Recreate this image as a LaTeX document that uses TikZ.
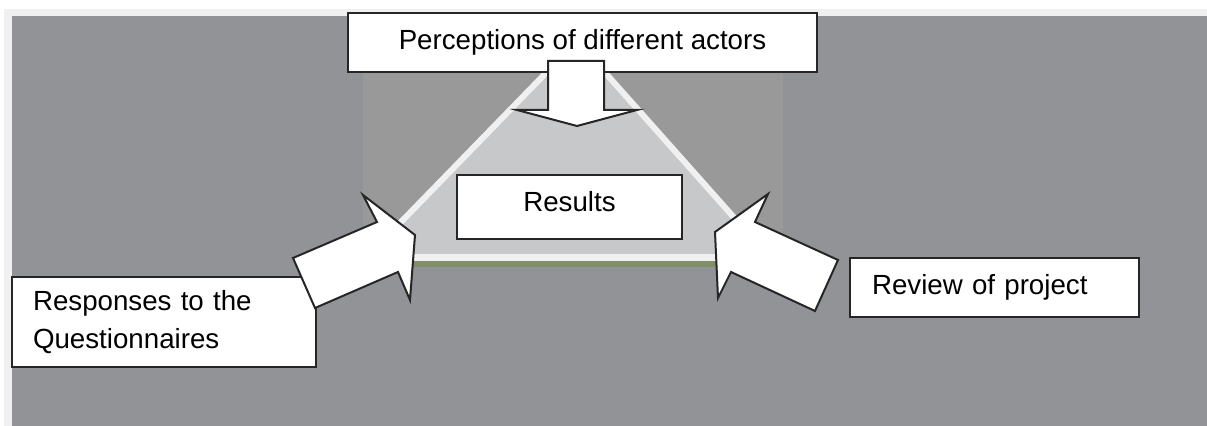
\documentclass[tikz,border=0pt]{standalone}
\usepackage{fontspec}
\setmainfont{Liberation Sans}
\definecolor{palerim}{RGB}{240,240,240}
\definecolor{darkbg}{RGB}{146,147,151}
\definecolor{midbg}{RGB}{153,153,153}
\definecolor{trifill}{RGB}{199,200,202}
\definecolor{basegreen}{RGB}{128,143,106}
\tikzset{
  labelbox/.style={draw=black!85,line width=1pt,fill=white,inner sep=0pt,
    font=\fontsize{13.85pt}{19pt}\selectfont},
  blockarrow/.style={draw=black!85,line width=1pt,fill=white,line join=miter},
}
\begin{document}
\begin{tikzpicture}[x=0.5pt,y=-0.5pt]
  \useasboundingbox (0,0) rectangle (1207,426);
  \fill[palerim] (4,9) rectangle (1207,426);
  \fill[darkbg] (12,16) rectangle (1207,426);
  \fill[midbg] (363,16) rectangle (783,262);

  \coordinate (apex) at (577,41);
  \coordinate (baseL) at (366,258);
  \coordinate (baseR) at (770,258);
  \fill[trifill] (baseL) -- (apex) -- (baseR) -- cycle;
  \draw[palerim,line width=3pt] (baseL) -- (apex) -- (baseR);
  \draw[palerim,line width=3.5pt] (baseL) -- (baseR);
  \draw[basegreen,line width=3pt] (366,264) -- (770,264);

  \node[labelbox,minimum width=234.5pt,minimum height=29.5pt] (actors)
    at (582.5,42.5) {Perceptions of different actors};
  \node[labelbox,minimum width=112.5pt,minimum height=32pt,text depth=6pt] (results)
    at (569.5,207) {Results};
  \node[labelbox,text width=131pt,inner xsep=10.5pt,minimum height=45pt,align=left] (quest)
    at (164,322) {Responses to the\\Questionnaires};
  \node[labelbox,text width=122.5pt,inner xsep=11pt,minimum height=29.5pt,align=left] (review)
    at (994.5,287.5) {Review of project};

  \draw[blockarrow] (548,61) -- (604,61) -- (604,110) -- (637,110)
    -- (577,126) -- (517,110) -- (548,110) -- cycle;
  \draw[blockarrow] (415,235) -- (410,300) -- (398,272) -- (315,308)
    -- (293,258) -- (377,222) -- (363,195) -- cycle;
  \draw[blockarrow] (715,232) -- (768,194) -- (755,222) -- (838,260)
    -- (815,311) -- (731,272) -- (718,298) -- cycle;
\end{tikzpicture}
\end{document}
